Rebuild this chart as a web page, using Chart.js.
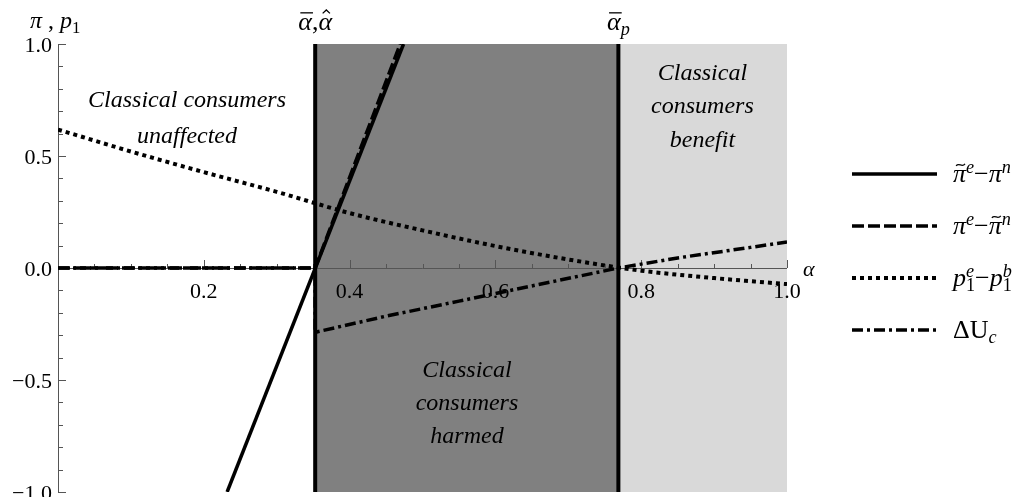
<!DOCTYPE html>
<html>
<head>
<meta charset="utf-8">
<title>Welfare effects by alpha</title>
<script src="https://cdn.jsdelivr.net/npm/chart.js@4.4.1/dist/chart.umd.min.js"></script>
<style>
  html, body { margin: 0; padding: 0; background: #fff; }
  #wrap { width: 1027px; height: 497px; position: relative; }
</style>
</head>
<body>
<div id="wrap"><canvas id="chart"></canvas></div>
<script>
const SERIF = '"Liberation Serif", "Times New Roman", serif';

// thresholds on the alpha axis
const alphaHat = 0.3528;
const alphaP = 0.7687;

// π̃e − πn
const solidX = [0.232, 0.474];
const solidY = [-1, 1];

// πe − π̃n
const dashedX = [0, 0.3528, 0.4695];
const dashedY = [0, 0, 1];

// p1e − p1b
const dottedX = [0, 0.1, 0.2, 0.3, 0.4, 0.5, 0.6, 0.7, 0.8, 0.9, 1.0];
const dottedY = [0.618, 0.52, 0.428, 0.34, 0.245, 0.168, 0.098, 0.038, -0.012, -0.045, -0.072];

// ΔUc
const dashDotX = [0, 0.3528, 0.3528, 0.45, 0.55, 0.65, 0.7687, 0.85, 0.95, 1.0];
const dashDotY = [0, 0, -0.287, -0.215, -0.148, -0.08, 0, 0.045, 0.092, 0.116];

const xTickLabels = [0.2, 0.4, 0.6, 0.8, 1.0];
const yTickLabels = [-1.0, -0.5, 0.0, 0.5, 1.0];

const notes = [
    { lines: ['Classical consumers', 'unaffected'], x: 0.177, y: [0.719, 0.558] },
    { lines: ['Classical', 'consumers', 'benefit'], x: 0.884, y: [0.84, 0.69, 0.54] },
    { lines: ['Classical', 'consumers', 'harmed'], x: 0.561, y: [-0.487, -0.635, -0.783] }
];

function pts(xs, ys) {
    return xs.map((v, i) => ({ x: v, y: ys[i] }));
}

// tilde, hat or bar over a glyph centred at cx
function drawAccent(ctx, kind, cx, w, y, size) {
    const top = y - size * 0.6;
    ctx.save();
    ctx.strokeStyle = '#000';
    ctx.lineWidth = Math.max(1, size * 0.05);
    ctx.beginPath();
    if (kind === 'tilde') {
        const h = size * 0.17;
        ctx.moveTo(cx - h, top - 0.02 * size);
        ctx.bezierCurveTo(cx - h * 0.4, top - 0.16 * size, cx + h * 0.4, top + 0.06 * size, cx + h, top - 0.1 * size);
    } else if (kind === 'hat') {
        ctx.moveTo(cx - 0.14 * size, top - 0.04 * size);
        ctx.lineTo(cx, top - 0.17 * size);
        ctx.lineTo(cx + 0.14 * size, top - 0.04 * size);
    } else {
        ctx.moveTo(cx - w / 2 + 1, y - size * 0.66);
        ctx.lineTo(cx + w / 2, y - size * 0.66);
    }
    ctx.stroke();
    ctx.restore();
}

// draws a run of text pieces with italics, accents, sub- and superscripts
function drawRich(ctx, runs, x, y, size, draw = true) {
    let cx = x, stackW = 0;
    runs.forEach(r => {
        const s = r.pos ? size * 0.7 : size;
        ctx.font = `${r.it ? 'italic ' : ''}${s}px ${SERIF}`;
        const dy = r.pos === 'sup' ? -size * 0.36 : r.pos === 'sub' ? size * 0.2 : 0;
        const w = ctx.measureText(r.t).width;
        if (draw) {
            ctx.fillText(r.t, cx, y + dy);
            if (r.acc) drawAccent(ctx, r.acc, cx + w / 2 + (r.it ? size * 0.04 : 0), w, y + dy, s);
        }
        if (r.stack) {
            stackW = w;
        } else {
            cx += Math.max(w, stackW);
            stackW = 0;
        }
    });
    return cx - x;
}

const legendRows = [
    { dash: [], width: 3.5, runs: [{ t: 'π', it: true, acc: 'tilde' }, { t: 'e', it: true, pos: 'sup' }, { t: '−' }, { t: 'π', it: true }, { t: 'n', it: true, pos: 'sup' }] },
    { dash: [12, 4], width: 3.5, runs: [{ t: 'π', it: true }, { t: 'e', it: true, pos: 'sup' }, { t: '−' }, { t: 'π', it: true, acc: 'tilde' }, { t: 'n', it: true, pos: 'sup' }] },
    { dash: [4, 4], width: 4, runs: [{ t: 'p', it: true }, { t: '1', pos: 'sub', stack: true }, { t: 'e', it: true, pos: 'sup' }, { t: '−' }, { t: 'p', it: true }, { t: '1', pos: 'sub', stack: true }, { t: 'b', it: true, pos: 'sup' }] },
    { dash: [11, 4, 3, 4], width: 3.5, runs: [{ t: 'ΔU' }, { t: 'c', it: true, pos: 'sub' }] }
];

const decorations = {
    id: 'decorations',
    beforeDatasetsDraw(chart) {
        const { ctx, chartArea: a, scales: { x, y } } = chart;
        const xh = x.getPixelForValue(alphaHat);
        const xp = x.getPixelForValue(alphaP);
        const x1 = x.getPixelForValue(1);
        const y0 = y.getPixelForValue(0);
        ctx.save();

        // shaded regions
        ctx.fillStyle = '#808080';
        ctx.fillRect(xh, a.top, xp - xh, a.bottom - a.top);
        ctx.fillStyle = '#d9d9d9';
        ctx.fillRect(xp, a.top, x1 - xp, a.bottom - a.top);

        // axes
        ctx.strokeStyle = '#555';
        ctx.lineWidth = 1;
        ctx.beginPath();
        ctx.moveTo(a.left, y0 + 0.5);
        ctx.lineTo(a.right, y0 + 0.5);
        ctx.moveTo(a.left + 0.5, a.top);
        ctx.lineTo(a.left + 0.5, a.bottom);
        for (let i = 1; i <= 20; i++) {
            const px = Math.round(x.getPixelForValue(i * 0.05)) + 0.5;
            ctx.moveTo(px, y0);
            ctx.lineTo(px, y0 - (i % 4 === 0 ? 8 : 4));
        }
        for (let i = -10; i <= 10; i++) {
            const py = Math.round(y.getPixelForValue(i / 10)) + 0.5;
            ctx.moveTo(a.left, py);
            ctx.lineTo(a.left + (i % 5 === 0 ? 8 : 5), py);
        }
        ctx.stroke();

        // tick labels
        ctx.fillStyle = '#000';
        ctx.font = `22px ${SERIF}`;
        ctx.textAlign = 'center';
        ctx.textBaseline = 'alphabetic';
        xTickLabels.forEach(v => {
            ctx.fillText(v.toFixed(1), x.getPixelForValue(v), y0 + 30);
        });
        ctx.textAlign = 'right';
        yTickLabels.forEach(v => {
            const s = v < 0 ? '−' + Math.abs(v).toFixed(1) : v.toFixed(1);
            ctx.fillText(s, a.left - 6, y.getPixelForValue(v) + 8);
        });

        // threshold lines
        ctx.strokeStyle = '#000';
        ctx.lineWidth = 4;
        ctx.beginPath();
        ctx.moveTo(xh, a.top);
        ctx.lineTo(xh, a.bottom);
        ctx.moveTo(xp, a.top);
        ctx.lineTo(xp, a.bottom);
        ctx.stroke();
        ctx.restore();
    },
    afterDatasetsDraw(chart) {
        const { ctx, scales: { x, y } } = chart;
        const xh = x.getPixelForValue(alphaHat);
        const xp = x.getPixelForValue(alphaP);
        ctx.save();
        ctx.fillStyle = '#000';
        ctx.textBaseline = 'alphabetic';

        // region captions
        ctx.textAlign = 'center';
        ctx.font = `italic 24px ${SERIF}`;
        notes.forEach(n => {
            n.lines.forEach((line, i) => {
                ctx.fillText(line, x.getPixelForValue(n.x), y.getPixelForValue(n.y[i]));
            });
        });

        // axis titles
        ctx.textAlign = 'left';
        drawRich(ctx, [{ t: 'π', it: true }, { t: ' , ' }, { t: 'p', it: true }, { t: '1', pos: 'sub' }], 30, 28, 24);
        ctx.font = `italic 22px ${SERIF}`;
        ctx.fillText('α', 803, 276);

        // threshold labels above the plot
        const hatRuns = [{ t: 'α', it: true, acc: 'bar' }, { t: ',' }, { t: 'α', it: true, acc: 'hat' }];
        let w = drawRich(ctx, hatRuns, 0, 0, 26, false);
        drawRich(ctx, hatRuns, xh - w / 2, 30, 26);

        const pRuns = [{ t: 'α', it: true, acc: 'bar' }, { t: 'p', it: true, pos: 'sub' }];
        w = drawRich(ctx, pRuns, 0, 0, 26, false);
        drawRich(ctx, pRuns, xp - w / 2, 30, 26);

        // legend
        legendRows.forEach((row, i) => {
            const ry = 174 + i * 52;
            ctx.strokeStyle = '#000';
            ctx.lineWidth = row.width;
            ctx.setLineDash(row.dash);
            ctx.beginPath();
            ctx.moveTo(852, ry);
            ctx.lineTo(937, ry);
            ctx.stroke();
            ctx.setLineDash([]);
            drawRich(ctx, row.runs, 953, ry + 8, 26);
        });
        ctx.restore();
    }
};

new Chart(document.getElementById('chart'), {
    type: 'line',
    data: {
        datasets: [
            { data: pts(solidX, solidY), borderColor: '#000', borderWidth: 3.5, pointRadius: 0 },
            { data: pts(dashedX, dashedY), borderColor: '#000', borderWidth: 3.5, borderDash: [12, 4], pointRadius: 0 },
            { data: pts(dottedX, dottedY), borderColor: '#000', borderWidth: 4, borderDash: [4, 4], pointRadius: 0, cubicInterpolationMode: 'monotone' },
            { data: pts(dashDotX, dashDotY), borderColor: '#000', borderWidth: 3.5, borderDash: [11, 4, 3, 4], pointRadius: 0 }
        ]
    },
    options: {
        responsive: true,
        maintainAspectRatio: false,
        animation: false,
        devicePixelRatio: 1,
        layout: { padding: { left: 58, right: 240, top: 44, bottom: 5 } },
        plugins: { legend: { display: false }, tooltip: { enabled: false } },
        scales: {
            x: { type: 'linear', min: 0, max: 1, display: false },
            y: { min: -1, max: 1, display: false }
        }
    },
    plugins: [decorations]
});
</script>
</body>
</html>
